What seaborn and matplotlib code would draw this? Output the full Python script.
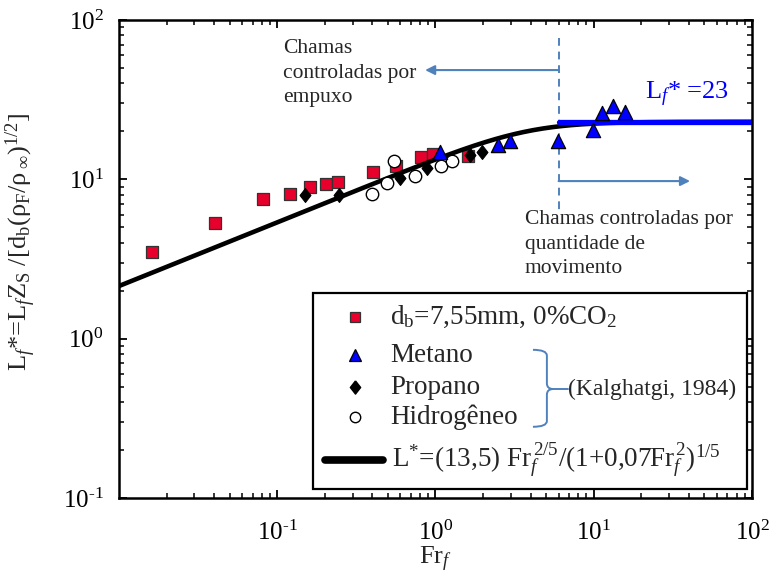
import numpy as np
import pandas as pd
import matplotlib
matplotlib.use("Agg")
import matplotlib.pyplot as plt
import seaborn as sns
from matplotlib.patches import Rectangle, PathPatch
from matplotlib.path import Path
from matplotlib.lines import Line2D
from matplotlib.ticker import LogLocator, NullFormatter

# ---- data -------------------------------------------------------------
# present work: d_b = 7.55 mm, 0 % CO2
fr_exp = [0.0161, 0.0405, 0.0809, 0.121, 0.161, 0.202, 0.242, 0.404, 0.560, 0.806, 0.960, 1.60]
ls_exp = [3.50, 5.34, 7.52, 8.12, 8.95, 9.38, 9.62, 11.06, 12.2, 13.9, 14.4, 14.0]

# Kalghatgi (1984)
fr_metano = [1.07, 2.49, 2.96, 5.92, 9.89, 11.3, 13.3, 15.7]
ls_metano = [14.8, 16.4, 17.3, 17.5, 20.4, 25.9, 28.8, 26.5]

fr_propano = [0.150, 0.247, 0.596, 0.890, 1.65, 1.98]
ls_propano = [7.96, 7.96, 10.2, 11.7, 14.2, 14.8]

fr_hidrogenio = [0.397, 0.494, 0.543, 0.742, 1.08, 1.28]
ls_hidrogenio = [8.05, 9.53, 13.1, 10.5, 12.1, 13.0]

# correlation L* = A Fr^(2/5) / (1 + B Fr^2)^(1/5)
coef_a = 13.5
coef_b = 0.07
fr_range = [0.01, 100.0]

# momentum-controlled plateau
l_plateau = 23
fr_transition = 6.0

HY = "\u2010"  # short hyphen for exponents
tick_values = [0.1, 1, 10, 100]
tick_labels = ["10$^{" + HY + "1}$", "10$^{0}$", "10$^{1}$", "10$^{2}$"]

# ---- style ------------------------------------------------------------
sns.set_theme(style="ticks")
plt.rcParams.update({
    "font.family": ["Liberation Serif", "DejaVu Serif"],
    "mathtext.fontset": "custom",
    "mathtext.rm": "Liberation Serif",
    "mathtext.it": "Liberation Serif:italic",
    "mathtext.bf": "Liberation Serif:bold",
    "axes.unicode_minus": False,
    "axes.edgecolor": "black",
    "xtick.color": "black",
    "ytick.color": "black",
})

RED = "#E8002D"
BLUE = "#0000FF"
GUIDE = "#4F81BD"

fig = plt.figure(figsize=(7.7, 5.78), dpi=100)
ax = fig.add_axes([0.1545, 0.1384, 0.8221, 0.827])
ax.set_xscale("log")
ax.set_yscale("log")

# correlation curve
fr_curve = np.logspace(np.log10(fr_range[0]), np.log10(fr_range[1]), 400)
l_curve = coef_a * fr_curve ** 0.4 / (1 + coef_b * fr_curve ** 2) ** 0.2

df_exp = pd.DataFrame({"Fr": fr_exp, "L": ls_exp})
df_met = pd.DataFrame({"Fr": fr_metano, "L": ls_metano})
df_pro = pd.DataFrame({"Fr": fr_propano, "L": ls_propano})
df_hid = pd.DataFrame({"Fr": fr_hidrogenio, "L": ls_hidrogenio})
df_curve = pd.DataFrame({"Fr": fr_curve, "L": l_curve})
df_plateau = pd.DataFrame({"Fr": [fr_transition, fr_range[1]], "L": [l_plateau, l_plateau]})

diamond = [(0, 1), (0.78, 0), (0, -1), (-0.78, 0), (0, 1)]

sns.scatterplot(data=df_exp, x="Fr", y="L", ax=ax, marker="s", s=66, color=RED,
                edgecolor="#333333", linewidth=0.9, zorder=3, legend=False)
sns.lineplot(data=df_curve, x="Fr", y="L", ax=ax, color="black", lw=3.3,
             zorder=4, legend=False, estimator=None, sort=False)
sns.scatterplot(data=df_hid, x="Fr", y="L", ax=ax, marker="o", s=80, facecolor="white",
                edgecolor="black", linewidth=1.0, zorder=5, legend=False)
sns.scatterplot(data=df_pro, x="Fr", y="L", ax=ax, marker=diamond, s=100, color="black",
                edgecolor="black", linewidth=0.8, zorder=5, legend=False)
sns.lineplot(data=df_plateau, x="Fr", y="L", ax=ax, color=BLUE, lw=3.8,
             zorder=6, legend=False, estimator=None)
sns.scatterplot(data=df_met, x="Fr", y="L", ax=ax, marker="^", s=105, color=BLUE,
                edgecolor="black", linewidth=0.9, zorder=7, legend=False)

ax.set_xticks(tick_values)
ax.set_xticklabels(tick_labels)
ax.set_yticks(tick_values)
ax.set_yticklabels(tick_labels)
for axis in (ax.xaxis, ax.yaxis):
    axis.set_minor_locator(LogLocator(base=10, subs=np.arange(2, 10), numticks=20))
    axis.set_minor_formatter(NullFormatter())
ax.set_xlim(0.01, 100)
ax.set_ylim(0.1, 100)
ax.tick_params(which="both", direction="in", top=True, right=True, color="black")
ax.tick_params(which="major", length=6, width=1.3)
ax.tick_params(which="minor", length=3.5, width=1.1)
ax.tick_params(axis="x", which="major", labelsize=18, pad=16)
ax.tick_params(axis="y", which="major", labelsize=18, pad=11)

ax.set_xlabel(r"Fr$_{f}$", fontsize=19, labelpad=0)
ax.set_ylabel("L$_{f}$*=L$_{f}$Z$_\\mathrm{S}$ /[d$_\\mathrm{b}$(ρ$_\\mathrm{F}$/ρ$_{\\;\\infty}$)$^{1/2}$]",
              fontsize=19)
ax.yaxis.set_label_coords(-0.128, 0.535)

# regime boundary and arrows
ax.plot([fr_transition, fr_transition], [77, 6.4], ls=(0, (4, 3)), color=GUIDE, lw=1.4, zorder=2)
ax.annotate("", xy=(0.86, 48.5), xytext=(fr_transition, 48.5),
            arrowprops=dict(arrowstyle="-|>", color=GUIDE, lw=1.5, mutation_scale=14,
                            shrinkA=0, shrinkB=0))
ax.annotate("", xy=(40.6, 9.75), xytext=(fr_transition, 9.75),
            arrowprops=dict(arrowstyle="-|>", color=GUIDE, lw=1.5, mutation_scale=14,
                            shrinkA=0, shrinkB=0))

ax.text(0.259, 0.889, "Chamas\ncontroladas por\nempuxo", transform=ax.transAxes,
        ha="left", va="center", fontsize=15.5, linespacing=1.4)
ax.text(0.641, 0.531, "Chamas controladas por\nquantidade de\nmovimento", transform=ax.transAxes,
        ha="left", va="center", fontsize=15.5, linespacing=1.4)
ax.text(0.831, 0.833, r"L$_{f}$* =%d" % l_plateau, transform=ax.transAxes, color=BLUE,
        ha="left", va="baseline", fontsize=19)

# ---- legend box -------------------------------------------------------
ax.add_patch(Rectangle((0.306, 0.0188), 0.6856, 0.4102, transform=ax.transAxes,
                       facecolor="white", edgecolor="black", lw=1.6, zorder=8))
kx, tx = 0.373, 0.428
rows = [0.379, 0.299, 0.232, 0.169]
ax.plot([kx], [rows[0]], transform=ax.transAxes, marker="s", ms=7, mfc=RED, mec="#333333",
        mew=0.9, zorder=9)
ax.plot([kx], [rows[1]], transform=ax.transAxes, marker="^", ms=9, mfc=BLUE, mec="black",
        mew=0.9, zorder=9)
ax.plot([kx], [rows[2]], transform=ax.transAxes, marker=diamond, ms=9.5, mfc="black",
        mec="black", zorder=9)
ax.plot([kx], [rows[3]], transform=ax.transAxes, marker="o", ms=7.5, mfc="white",
        mec="black", mew=1.0, zorder=9)
labels = [r"d$_\mathrm{b}$=7,55mm, 0%CO$_2$", "Metano", "Propano", "Hidrogêneo"]
for y, lab in zip(rows, labels):
    ax.text(tx, y, lab, transform=ax.transAxes, ha="left", va="center", fontsize=19.5, zorder=9)

ax.add_line(Line2D([0.325, 0.417], [0.0795, 0.0795], transform=ax.transAxes,
                   color="black", lw=5.5, zorder=9))
ax.text(0.431, 0.0795,
        r"L$^{*}$=(13,5) Fr$_{f}^{\,2/5}$/(1+0,07Fr$_{f}^{\,2}$)$^{1/5}$",
        transform=ax.transAxes, ha="left", va="center", fontsize=19.5, zorder=9)

# curly brace grouping the Kalghatgi series
bx0, bx1, bx2 = 0.654, 0.676, 0.686
by_top, by_mid, by_bot = 0.310, 0.228, 0.149
verts = [
    (bx0, by_top), (bx1, by_top), (bx1, by_top - 0.012),
    (bx1, by_mid + 0.012),
    (bx1, by_mid), (bx2, by_mid), (bx2, by_mid),
    (bx1, by_mid), (bx1, by_mid - 0.012), (bx1, by_mid - 0.012),
    (bx1, by_bot + 0.012),
    (bx1, by_bot), (bx0, by_bot),
]
codes = [Path.MOVETO, Path.CURVE3, Path.CURVE3,
         Path.LINETO,
         Path.CURVE3, Path.CURVE3, Path.LINETO,
         Path.CURVE3, Path.CURVE3, Path.LINETO,
         Path.LINETO,
         Path.CURVE3, Path.CURVE3]
ax.add_patch(PathPatch(Path(verts, codes), transform=ax.transAxes, fill=False,
                       edgecolor=GUIDE, lw=1.4, zorder=9))
ax.add_line(Line2D([bx2, 0.709], [by_mid, by_mid], transform=ax.transAxes,
                   color=GUIDE, lw=1.4, zorder=9))
ax.text(0.709, by_mid, "(Kalghatgi, 1984)", transform=ax.transAxes, ha="left",
        va="center", fontsize=17, zorder=9)

for s in ax.spines.values():
    s.set_linewidth(1.8)
    s.set_zorder(10)

fig.savefig("out.png", dpi=100)
